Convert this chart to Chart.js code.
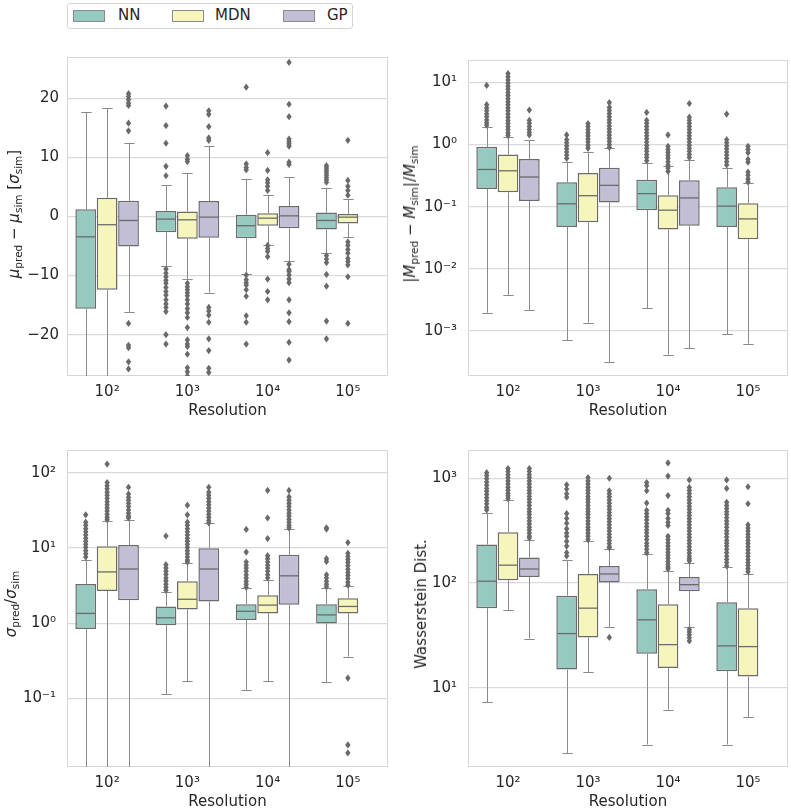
<!DOCTYPE html>
<html><head><meta charset="utf-8">
<script src="https://cdn.jsdelivr.net/npm/chart.js@4.4.0/dist/chart.umd.min.js"></script>
<style>
html,body{margin:0;padding:0;background:#fff;width:791px;height:808px;overflow:hidden;font-family:"DejaVu Sans",sans-serif;color:#262626}
canvas{position:absolute}
.ytitle{position:absolute;transform:translate(-50%,-50%) rotate(-90deg);white-space:nowrap;font-size:15px;line-height:18px}
.ytitle sub{font-size:10.5px;vertical-align:-3px;line-height:0}
#legend{position:absolute;left:67px;top:3px;width:284px;height:24px;border:1px solid #d5d5d5;border-radius:3px;background:#fff}
.sw{position:absolute;top:6px;width:30px;height:10px;border:1px solid #8a8a8a}
.lt{position:absolute;top:2px;font-size:15px;line-height:18px}
</style></head><body>
<div id="legend">
  <div class="sw" style="left:5px;background:#96cac1"></div><div class="lt" style="left:50px">NN</div>
  <div class="sw" style="left:104px;background:#f6f6bc"></div><div class="lt" style="left:147px">MDN</div>
  <div class="sw" style="left:215px;background:#c1bed6"></div><div class="lt" style="left:259px">GP</div>
</div>
<canvas id="c1" width="395" height="380" style="left:0;top:40px"></canvas>
<canvas id="c2" width="391" height="380" style="left:400px;top:40px"></canvas>
<canvas id="c3" width="395" height="381" style="left:0;top:430px"></canvas>
<canvas id="c4" width="391" height="381" style="left:400px;top:430px"></canvas>
<div class="ytitle" style="left:14px;top:214px"><i>μ</i><sub>pred</sub> − <i>μ</i><sub>sim</sub> [<i>σ</i><sub>sim</sub>]</div>
<div class="ytitle" style="left:410px;top:214px">|<i>M</i><sub>pred</sub> − <i>M</i><sub>sim</sub>|/<i>M</i><sub>sim</sub></div>
<div class="ytitle" style="left:11px;top:604px"><i>σ</i><sub>pred</sub>/<i>σ</i><sub>sim</sub></div>
<div class="ytitle" style="left:421px;top:604px">Wasserstein Dist.</div>
<script>
const models = ['NN', 'MDN', 'GP'];
const resolutions = ['10²', '10³', '10⁴', '10⁵'];

// ---- Panel 1: mean residual [sigma_sim] (rows: NN, MDN, GP; cols: resolutions)
const muQ1  = [[-15.6, -2.67, -3.67, -2.22], [-12.4, -3.78, -1.56, -1.17], [-5.06, -3.61, -2.0, null]];
const muMed = [[-3.44, -0.44, -1.56, -0.67], [-1.39, -0.56, -0.28, -0.11], [-0.67, -0.11, 0.11, null]];
const muQ3  = [[1.22, 0.94, 0.28, 0.67], [3.17, 0.83, 0.56, 0.44], [2.67, 2.61, 1.78, null]];
const muLo  = [[-32, -8.4, -9.7, -6.17], [-32, -10.6, -4.78, -3.5], [-16.2, -12.9, -7.6, null]];
const muHi  = [[17.7, 5.28, 6.39, 4.89], [18.3, 7.33, 3.61, 2.89], [12.5, 11.9, 6.67, null]];
const muOut = [
  [[], [18.7, 15.4, 12.4, 8.5, 6.9, -8.9, -9.6, -10.2, -10.8, -11.3, -12.0, -12.7, -13.3, -14.1, -14.8, -15.4, -16.1, -20.0, -21.6],
   [21.9, 8.9, 8.3, 7.9, -9.9, -10.7, -11.2, -11.6, -12.4, -13.5, -16.8, -17.9, -21.6],
   [8.6, 8.2, 7.8, 7.4, 7.0, 6.6, 6.2, 5.8, -6.6, -7.2, -7.8, -9.8, -11.8, -17.7, -20.7]],
  [[], [10.3, 9.7, 9.3, -11.3, -11.9, -12.4, -12.9, -13.4, -14.1, -14.8, -15.6, -16.3, -17.1, -18.8, -20.9, -21.6, -22.0, -23.3, -25.6, -26.3, -27.0],
   [10.8, 7.8, 6.2, 5.7, 5.1, 4.4, -4.9, -5.4, -5.9, -6.8, -10.6, -12.7, -14.1],
   [12.9, 6.1, 5.1, 4.4, 3.6, -4.3, -4.9, -5.6, -6.2, -7.1, -7.6, -8.2, -10.2, -18.1]],
  [[20.8, 20.3, 19.8, 19.2, 18.8, 15.8, 14.5, -18.1, -21.8, -22.2, -24.6, -25.8],
   [17.9, 17.3, 15.2, 13.3, 12.9, -15.4, -16.0, -16.7, -17.9, -20.7, -22.7, -25.7, -26.4],
   [26.1, 19.0, 16.9, 13.1, 12.7, 12.3, 11.9, 9.2, 8.8, -8.1, -9.0, -9.3, -9.9, -10.6, -11.2, -14.1, -16.3, -17.8, -21.3, -24.3],
   []]
];
const muTicks = [-20, -10, 0, 10, 20];
const muTickLabels = ['−20', '−10', '0', '10', '20'];

// ---- Panel 2: relative mass error
const mQ1  = [[0.193, 0.047, 0.0877, 0.047], [0.171, 0.056, 0.0427, 0.0298], [0.123, 0.117, 0.049, null]];
const mMed = [[0.397, 0.111, 0.162, 0.102], [0.378, 0.15, 0.0877, 0.0634], [0.30, 0.22, 0.138, null]];
const mQ3  = [[0.92, 0.246, 0.27, 0.205], [0.69, 0.348, 0.152, 0.113], [0.583, 0.422, 0.267, null]];
const mLo  = [[0.00195, 0.0007, 0.0023, 0.00087], [0.0037, 0.00135, 0.00041, 0.00062], [0.00214, 0.00031, 0.00052, null]];
const mHi  = [[1.93, 0.53, 0.50, 0.42], [1.35, 0.76, 0.448, 0.237], [1.18, 0.887, 0.56, null]];
const mOut = [
  [[9.0, 4.4, 3.9, 3.5, 3.1, 2.8, 2.5, 2.25, 2.05],
   [1.43, 1.2, 1.07, 0.95, 0.85, 0.76, 0.68, 0.6],
   [3.3, 2.46, 2.2, 1.96, 1.75, 1.56, 1.39, 1.24, 1.1, 0.98, 0.87, 0.78, 0.69, 0.62, 0.55],
   [3.1, 1.2, 1.07, 0.95, 0.85, 0.76, 0.68, 0.6, 0.53, 0.47]],
  [[14, 12.4, 11, 9.8, 8.7, 7.8, 6.9, 6.2, 5.5, 4.9, 4.4, 3.9, 3.5, 3.1, 2.75, 2.45, 2.2, 1.95, 1.75, 1.55, 1.4],
   [2.18, 1.95, 1.74, 1.55, 1.38, 1.23, 1.1, 0.98, 0.87],
   [1.43, 0.94, 0.84, 0.75, 0.67, 0.6, 0.53, 0.47, 0.42, 0.37],
   [0.94, 0.84, 0.74, 0.58, 0.52, 0.36, 0.32, 0.28, 0.25]],
  [[3.6, 2.46, 2.2, 1.95, 1.75, 1.57, 1.43],
   [4.75, 3.97, 3.55, 3.15, 2.8, 2.5, 2.25, 2.0, 1.78, 1.6, 1.42, 1.27, 1.13, 1.0, 0.9],
   [4.6, 2.77, 2.47, 2.2, 1.96, 1.75, 1.56, 1.39, 1.24, 1.1, 0.98, 0.87, 0.78, 0.69, 0.62],
   []]
];
const mTicks = [1e-3, 1e-2, 1e-1, 1e0, 1e1];
const mTickLabels = ['10⁻³', '10⁻²', '10⁻¹', '10⁰', '10¹'];

// ---- Panel 3: sigma ratio
const sQ1  = [[0.836, 0.94, 1.10, 0.99], [2.67, 1.52, 1.35, 1.35], [2.02, 1.95, 1.76, null]];
const sMed = [[1.35, 1.18, 1.44, 1.29], [4.8, 2.08, 1.74, 1.67], [5.25, 5.25, 4.26, null]];
const sQ3  = [[3.33, 1.67, 1.79, 1.79], [10.5, 3.6, 2.35, 2.15], [10.9, 9.9, 8.1, null]];
const sLo  = [[0.005, 0.113, 0.131, 0.164], [0.005, 0.171, 0.171, 0.36], [0.005, 0.005, 0.005, null]];
const sHi  = [[7.0, 2.62, 2.9, 2.95], [22.6, 6.27, 3.78, 3.16], [23.2, 21.5, 17.6, null]];
const sOut = [
  [[27.5, 22, 20, 18, 16.4, 14.9, 13.5, 12.3, 11.2, 10.2, 9.2, 8.4, 7.6],
   [14.4, 6.0, 5.4, 4.9, 4.45, 4.0, 3.65, 3.3, 3.0, 2.75],
   [17.6, 8.8, 6.5, 5.9, 5.4, 4.9, 4.4, 4.0, 3.6, 3.3, 3.0],
   [18.5, 17.8, 7.2, 6.6, 4.4, 4.0, 3.6, 3.3, 3.05]],
  [[130, 74, 67, 61, 55, 50, 45.5, 41, 37.5, 34, 31, 28, 25.5, 23.7],
   [37, 27.5, 22, 20, 18, 16.4, 14.9, 13.5, 12.3, 11.2, 10.2, 9.2, 8.4, 7.6, 6.9, 6.5],
   [58, 25, 13.3, 7.9, 7.2, 6.5, 5.9, 5.4, 4.9, 4.4, 4.0],
   [11.8, 8.5, 7.7, 7.0, 6.4, 5.8, 5.2, 4.7, 4.3, 3.9, 3.5, 3.2, 0.187, 0.0242, 0.0189]],
  [[64, 52, 47, 43, 39, 35.5, 32, 29, 26.5, 25],
   [64, 55, 50, 45.5, 41, 37.5, 34, 31, 28, 25.5, 23.2, 21.5],
   [58, 47.6, 43, 39, 35.5, 32, 29, 26.5, 24, 22, 20, 18.5],
   []]
];
const sTicks = [1e-1, 1e0, 1e1, 1e2];
const sTickLabels = ['10⁻¹', '10⁰', '10¹', '10²'];

// ---- Panel 4: Wasserstein distance
const wQ1  = [[57.5, 14.9, 21.1, 14.4], [106, 30.2, 15.4, 12.8], [114, 101, 83.6, null]];
const wMed = [[104, 32.9, 44.5, 25.1], [148, 57.5, 25.8, 24.7], [136, 122, 96.4, null]];
const wQ3  = [[233, 75.7, 87.3, 65.5], [306, 122, 62.8, 57.5], [175, 145, 114, null]];
const wLo  = [[7.3, 2.37, 2.87, 2.87], [55, 14.1, 6.18, 5.28], [29.5, 38, 38, null]];
const wHi  = [[471, 165, 188, 141], [614, 251, 131, 122], [259, 209, 155, null]];
const wOut = [
  [[1130, 1060, 990, 920, 860, 800, 750, 700, 650, 610, 570, 530, 500],
   [866, 790, 710, 660, 461, 414, 372, 330, 300, 279, 250, 225, 195, 181],
   [910, 850, 760, 580, 495, 460, 430, 400, 370, 345, 320, 300, 280, 260, 240, 225, 210, 195],
   [965, 800, 590, 550, 515, 480, 450, 420, 390, 365, 340, 315, 295, 275, 255, 240, 225, 210, 195, 180, 168, 157, 146]],
  [[1240, 1160, 1080, 1010, 940, 880, 820, 770, 720, 680, 640],
   [1015, 944, 880, 820, 770, 720, 670, 630, 590, 550, 510, 480, 450, 420, 390, 365, 340, 320, 300, 280, 260],
   [1400, 1050, 684, 495, 460, 414, 380, 355, 279, 260, 242, 226, 211, 197, 184, 172, 160, 150, 142, 136],
   [830, 571, 359, 335, 313, 292, 273, 255, 238, 222, 207, 193, 180, 168, 157, 147, 137, 128]],
  [[1240, 1160, 1080, 1010, 940, 880, 820, 770, 720, 670, 630, 590, 550, 510, 480, 450, 420, 390, 365, 340, 320, 300, 280, 269],
   [1000, 760, 710, 665, 620, 580, 540, 505, 470, 440, 410, 385, 360, 335, 313, 292, 273, 255, 238, 222, 217, 30.2],
   [965, 818, 765, 715, 665, 620, 580, 540, 505, 470, 440, 410, 385, 360, 335, 313, 292, 273, 255, 238, 222, 207, 193, 180, 170, 163, 36, 34, 32, 30, 28],
   []]
];
const wTicks = [1e1, 1e2, 1e3];
const wTickLabels = ['10¹', '10²', '10³'];

// ---- styling
const fills = ['#96cac1', '#f6f6bc', '#c1bed6'];
const edge = '#6b6b6b';
const whisk = '#8a8a8a';
const gridColor = '#dadada';
const textColor = '#262626';
const font = { family: '"DejaVu Sans", sans-serif', size: 15 };

function makeBoxPlugin(st) {
  return {
    id: 'boxExtras',
    beforeDatasetsDraw(chart) {
      const a = chart.chartArea, ctx = chart.ctx;
      ctx.save();
      ctx.strokeStyle = '#d6d6d6'; ctx.lineWidth = 1;
      ctx.strokeRect(a.left + 0.5, a.top + 0.5, a.right - a.left - 1, a.bottom - a.top - 1);
      ctx.restore();
    },
    afterDatasetsDraw(chart) {
      const a = chart.chartArea, ctx = chart.ctx, ys = chart.scales.y;
      const py = v => ys.getPixelForValue(v);
      ctx.save();
      ctx.beginPath(); ctx.rect(a.left, a.top, a.right - a.left, a.bottom - a.top); ctx.clip();
      const seg = (x1, y1, x2, y2) => { ctx.beginPath(); ctx.moveTo(x1, y1); ctx.lineTo(x2, y2); ctx.stroke(); };
      chart.data.datasets.forEach((ds, i) => {
        const meta = chart.getDatasetMeta(i);
        meta.data.forEach((bar, j) => {
          if (st.med[i][j] == null) return;
          const x = Math.round(bar.x) + 0.5, w = bar.width;
          ctx.strokeStyle = whisk; ctx.lineWidth = 1;
          seg(x, py(st.q3[i][j]), x, py(st.hi[i][j]));
          seg(x, py(st.q1[i][j]), x, py(st.lo[i][j]));
          seg(x - w / 4, Math.round(py(st.hi[i][j])) + 0.5, x + w / 4, Math.round(py(st.hi[i][j])) + 0.5);
          seg(x - w / 4, Math.round(py(st.lo[i][j])) + 0.5, x + w / 4, Math.round(py(st.lo[i][j])) + 0.5);
          ctx.strokeStyle = edge; ctx.lineWidth = 1.3;
          seg(bar.x - w / 2 + 1, py(st.med[i][j]), bar.x + w / 2 - 1, py(st.med[i][j]));
          ctx.fillStyle = '#6a6a6a';
          st.out[i][j].forEach(v => {
            const y = py(v);
            ctx.beginPath();
            ctx.moveTo(bar.x, y - 3.6); ctx.lineTo(bar.x + 2.7, y);
            ctx.lineTo(bar.x, y + 3.6); ctx.lineTo(bar.x - 2.7, y); ctx.closePath(); ctx.fill();
          });
        });
      });
      ctx.restore();
    }
  };
}

function makeChart(id, st) {
  const datasets = models.map((m, i) => ({
    label: m,
    data: st.q1[i].map((v, j) => v == null ? null : [v, st.q3[i][j]]),
    backgroundColor: fills[i], borderColor: edge, borderWidth: 1.5, borderSkipped: false,
    categoryPercentage: 0.8, barPercentage: 0.97
  }));
  new Chart(document.getElementById(id), {
    type: 'bar',
    data: { labels: resolutions, datasets },
    options: {
      responsive: false, animation: false,
      layout: { padding: st.pad },
      plugins: { legend: { display: false }, tooltip: { enabled: false } },
      scales: {
        x: {
          grid: { display: false, drawTicks: false }, border: { display: false },
          ticks: { font, color: textColor, padding: 7, autoSkip: false, maxRotation: 0 },
          title: { display: true, text: 'Resolution', font, color: textColor, padding: { top: 0, bottom: 0 } },
          afterFit: s => { s.height = 44; }
        },
        y: {
          type: st.type, min: st.min, max: st.max,
          grid: { color: gridColor, lineWidth: 1.2, drawTicks: false },
          border: { display: false },
          ticks: { font, color: textColor, padding: st.tickPad, autoSkip: false, callback: (v, idx) => st.tickLabels[idx] },
          afterBuildTicks: s => { s.ticks = st.ticks.map(v => ({ value: v })); },
          afterFit: s => { s.width = st.yw; }
        }
      }
    },
    plugins: [makeBoxPlugin(st)]
  });
}

makeChart('c1', { q1: muQ1, med: muMed, q3: muQ3, lo: muLo, hi: muHi, out: muOut, type: 'linear', min: -27, max: 27,
  ticks: muTicks, tickLabels: muTickLabels, tickPad: 8, yw: 67, pad: { top: 11, right: 7, bottom: 0, left: 0 } });
makeChart('c2', { q1: mQ1, med: mMed, q3: mQ3, lo: mLo, hi: mHi, out: mOut, type: 'logarithmic', min: 1.86e-4, max: 23.1,
  ticks: mTicks, tickLabels: mTickLabels, tickPad: 11, yw: 68, pad: { top: 11, right: 3, bottom: 0, left: 0 } });
makeChart('c3', { q1: sQ1, med: sMed, q3: sQ3, lo: sLo, hi: sHi, out: sOut, type: 'logarithmic', min: 0.0123, max: 200,
  ticks: sTicks, tickLabels: sTickLabels, tickPad: 11, yw: 67, pad: { top: 12, right: 7, bottom: 0, left: 0 } });
makeChart('c4', { q1: wQ1, med: wMed, q3: wQ3, lo: wLo, hi: wHi, out: wOut, type: 'logarithmic', min: 1.75, max: 1862,
  ticks: wTicks, tickLabels: wTickLabels, tickPad: 11, yw: 68, pad: { top: 12, right: 3, bottom: 0, left: 0 } });
</script>
</body></html>
